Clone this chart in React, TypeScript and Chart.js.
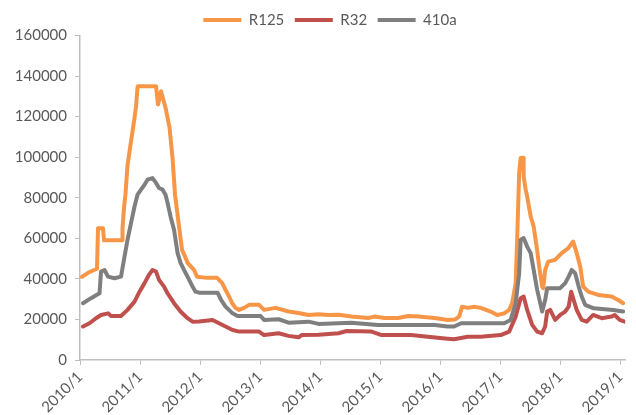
import React, { useEffect, useRef } from "react";
import { Chart, registerables } from "chart.js";

Chart.register(...registerables);

// x positions are months since 2010/1
const yearLabels = ["2010/1", "2011/1", "2012/1", "2013/1", "2014/1", "2015/1", "2016/1", "2017/1", "2018/1", "2019/1"];
const yTicks = [0, 20000, 40000, 60000, 80000, 100000, 120000, 140000, 160000];

const r125Month = [0.4,1.6,3.4,3.6,4.6,4.8,8.4,8.5,8.8,9.1,9.5,10.2,10.9,11.2,11.5,11.6,15.2,15.6,16.2,17.1,17.9,18.5,19.0,19.7,20.4,21.0,21.5,22.8,23.4,25.4,27.4,27.8,28.4,29.1,29.8,30.4,31.1,31.8,32.8,33.8,35.8,36.8,39.1,41.7,43.7,45.7,47.7,49.7,51.7,54.3,57.6,58.9,60.9,63.6,65.6,67.6,70.9,73.5,75.0,75.8,76.4,77.5,78.8,80.1,82.1,83.4,84.8,85.8,86.4,87.1,87.4,87.8,88.1,88.6,88.7,89.1,89.4,90.1,90.7,91.4,91.8,92.4,92.6,93.0,93.6,95.0,96.3,97.6,98.6,99.3,100.0,100.6,101.6,103.6,106.3,107.6,108.6];
const r125Values = [41000,43000,45000,65000,65000,59000,59000,65000,75000,82000,96000,107800,119300,125000,134300,135000,135000,126000,132500,124400,114600,99700,81500,67700,54300,51000,47900,44400,41100,40500,40500,39500,38000,34600,31300,28100,25700,24700,25700,27200,27200,24700,25700,23900,23200,22200,22500,22200,22300,21400,20700,21400,20700,20700,21700,21400,20700,19750,20000,21400,26300,25700,26300,25700,23900,22200,23000,24700,28100,37900,59300,92300,99600,99700,90500,84000,80600,70800,65800,54000,46100,36200,35400,44400,48500,49400,52700,55100,58400,52700,46100,36200,33700,32100,31300,29600,28000];

const r32Month = [0.6,1.9,3.2,4.2,5.6,6.2,8.2,9.5,10.9,11.9,12.9,13.8,14.5,15.2,15.8,16.8,17.5,18.8,20.1,21.5,22.5,23.8,26.5,27.8,29.1,30.5,31.8,35.8,36.8,39.7,41.7,43.7,44.3,47.7,51.7,53.3,58.3,60.3,66.2,69.5,73.5,74.8,77.5,80.1,84.1,85.8,87.1,88.1,88.7,89.4,90.4,91.4,92.4,93.0,93.4,94.0,95.0,96.0,97.0,97.7,98.2,98.7,99.3,100.3,101.3,102.6,104.3,106.3,106.9,107.9,108.9];
const r32Values = [16500,18100,20600,22200,23000,21700,21700,24700,28800,33700,37900,42000,44400,43600,39500,36200,32900,28000,23900,20600,18900,19000,19750,18100,16500,14800,14000,14000,12300,13200,11900,11200,12300,12500,13200,14300,14000,12300,12300,11500,10500,10200,11500,11500,12300,14000,21400,30500,31300,24700,17300,14000,13200,16500,23900,24700,19750,22200,23900,26300,33700,29600,24700,19750,18900,22200,20600,21400,22200,19750,18900];

const r410aMonth = [0.6,2.2,3.9,4.2,4.9,5.6,6.9,8.2,8.9,9.5,10.2,10.9,11.5,12.2,12.9,13.5,14.5,15.2,15.8,16.5,17.1,17.5,18.1,18.8,19.5,20.1,20.8,21.5,22.5,23.1,23.8,27.5,28.2,29.1,30.5,31.5,36.1,36.8,39.7,41.7,45.7,47.7,54.2,59.6,70.9,73.5,74.8,76.2,84.8,86.1,87.1,87.8,88.1,88.7,89.4,90.1,90.7,91.4,92.4,93.0,93.4,96.0,97.0,97.7,98.3,99.0,99.7,100.3,101.0,102.7,106.6,108.6];
const r410aValues = [28000,30500,32900,43600,44400,41100,40300,41100,51000,59300,67500,75700,81500,84000,86400,88900,89700,87300,84800,84000,81500,77500,70800,64200,52800,47900,44400,41100,36200,33700,33200,33200,29600,26300,23000,21700,21700,19750,20100,18400,18900,17800,18400,17300,17300,16500,16500,18100,18100,19750,28000,42800,59300,60100,55900,52700,44400,34600,23900,29600,35400,35400,37900,41100,44400,42800,36200,31300,27200,25500,24700,23900];

const seriesNames = ["R125", "R32", "410a"];
const seriesColors = ["#F79646", "#C0504D", "#7F7F7F"];

const toPoints = (xs: number[], ys: number[]) => xs.map((x, i) => ({ x, y: ys[i] }));

const FONT = "Lato, 'Open Sans', sans-serif";
const TEXT = "#595959";
const AXIS = "#BFBFBF";

// nudges the legend to where the reference has it
const legendShift = {
  id: "legendShift",
  beforeDraw(chart: any) {
    const lg = chart.legend;
    if (!lg || lg._shifted) return;
    lg._shifted = true;
    lg.left += 16;
    lg.right += 16;
    lg.top += 2;
    lg.bottom += 2;
    if (lg.legendHitBoxes) {
      lg.legendHitBoxes.forEach((b: any) => { b.left += 16; b.top += 2; });
    }
  },
};

export default function App() {
  const ref = useRef<HTMLCanvasElement | null>(null);

  useEffect(() => {
    if (!ref.current) return;
    const seriesData = [
      toPoints(r125Month, r125Values),
      toPoints(r32Month, r32Values),
      toPoints(r410aMonth, r410aValues),
    ];
    const chart = new Chart(ref.current, {
      type: "line",
      data: {
        datasets: seriesNames.map((name, i) => ({
          label: name,
          data: seriesData[i],
          borderColor: seriesColors[i],
          backgroundColor: seriesColors[i],
          borderWidth: 4,
          pointRadius: 0,
          tension: 0,
          borderCapStyle: "round" as const,
          borderJoinStyle: "round" as const,
          fill: false,
          order: 2 - i,
        })),
      },
      plugins: [legendShift],
      options: {
        animation: false,
        responsive: false,
        maintainAspectRatio: false,
        layout: { padding: { left: 0, right: 8, top: 0, bottom: 0 } },
        plugins: {
          tooltip: { enabled: false },
          legend: {
            position: "top",
            labels: {
              color: TEXT,
              font: { family: FONT, size: 15 },
              boxWidth: 38,
              boxHeight: 4,
              padding: 10.5,
              generateLabels: (c: any) =>
                c.data.datasets.map((d: any, i: number) => ({
                  text: d.label,
                  fillStyle: d.borderColor,
                  strokeStyle: d.borderColor,
                  lineWidth: 0,
                  hidden: false,
                  datasetIndex: i,
                  fontColor: TEXT,
                })),
            },
          },
        },
        scales: {
          x: {
            type: "linear",
            min: 0,
            max: 109,
            grid: { drawOnChartArea: false, drawTicks: true, tickLength: 5, color: AXIS },
            border: { display: true, color: AXIS, width: 1.5 },
            ticks: {
              stepSize: 12,
              includeBounds: false,
              autoSkip: false,
              minRotation: 45,
              maxRotation: 45,
              color: TEXT,
              font: { family: FONT, size: 15 },
              callback: (v: any) => yearLabels[Math.round(Number(v) / 12)] ?? "",
            },
            afterFit: (s: any) => { s.height = 55; },
          },
          y: {
            type: "linear",
            min: yTicks[0],
            max: yTicks[yTicks.length - 1],
            grid: { drawOnChartArea: false, drawTicks: true, tickLength: 5, color: AXIS },
            border: { display: true, color: AXIS, width: 1.5 },
            ticks: {
              stepSize: yTicks[1] - yTicks[0],
              color: TEXT,
              font: { family: FONT, size: 15 },
              padding: 8,
              callback: (v: any) => String(v),
            },
            afterFit: (s: any) => { s.width = 80; },
          },
        },
      },
    });
    return () => chart.destroy();
  }, []);

  return (
    <div style={{ position: "absolute", left: 0, top: 0, width: 636, height: 415, background: "#fff" }}>
      <canvas ref={ref} width={636} height={415} style={{ width: 636, height: 415 }} />
    </div>
  );
}
